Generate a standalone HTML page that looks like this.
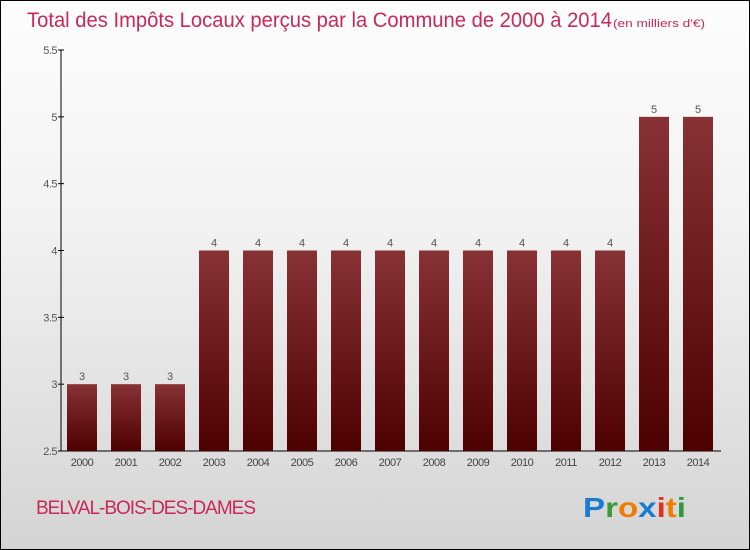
<!DOCTYPE html>
<html><head><meta charset="utf-8"><style>
body{margin:0}
#c{width:750px;height:550px;position:relative;box-sizing:border-box;border:1px solid #000;background:linear-gradient(#fdfdfd,#f2f2f2 40%,#d4d4d4);font-family:"Liberation Sans",sans-serif;overflow:hidden}
</style></head><body>
<div id="c">
<svg id="s" width="750" height="550" style="position:absolute;left:-1px;top:-1px">
<defs><linearGradient id="g" x1="0" y1="0" x2="0" y2="1"><stop offset="0" stop-color="#883236"/><stop offset="1" stop-color="#4e0000"/></linearGradient></defs>
<text x="27" y="27" font-size="21" fill="#c8285a" textLength="585" lengthAdjust="spacingAndGlyphs">Total des Impôts Locaux perçus par la Commune de 2000 à 2014</text>
<text x="613" y="27" font-size="11" fill="#c8285a" textLength="92" lengthAdjust="spacingAndGlyphs">(en milliers d'€)</text>
<text x="36" y="514" font-size="19" fill="#c8285a" letter-spacing="-1">BELVAL-BOIS-DES-DAMES</text>
<g font-size="28" font-weight="bold">
<text x="583" y="517" fill="#1a7bd0" textLength="103" lengthAdjust="spacingAndGlyphs">P<tspan fill="#3a9a3a">r</tspan><tspan fill="#f07d00">o</tspan><tspan fill="#1a7bd0">x</tspan><tspan fill="#e03020">i</tspan><tspan fill="#f07d00">t</tspan><tspan fill="#2a9a3a">i</tspan></text></g>
</svg>
</div>
<script>
const categories=["2000","2001","2002","2003","2004","2005","2006","2007","2008","2009","2010","2011","2012","2013","2014"];
const values=[3,3,3,4,4,4,4,4,4,4,4,4,4,5,5];
const labels=["3","3","3","4","4","4","4","4","4","4","4","4","4","5","5"];
const yTicks=[2.5,3,3.5,4,4.5,5,5.5];
const yTickLabels=["2.5","3","3.5","4","4.5","5","5.5"];
const s=document.getElementById('s'),NS="http://www.w3.org/2000/svg";
const y0=451,y1=50,vmin=2.5,vmax=5.5;
const yS=v=>y0-(v-vmin)/(vmax-vmin)*(y0-y1);
const xS=i=>82+i*44;
function el(t,a,p){const e=document.createElementNS(NS,t);for(const k in a)e.setAttribute(k,a[k]);(p||s).appendChild(e);return e;}
const ax=el('line',{x1:61,y1:y1,x2:61,y2:y0,stroke:'#000'});


const bx=el('line',{x1:61,y1:y0,x2:721,y2:y0,stroke:'#000'});


yTicks.forEach((v,i)=>{
 const t=el('line',{x1:58,x2:64,y1:yS(v),y2:yS(v),stroke:'#000'});
 
 
 const l=el('text',{x:57,y:yS(v)+4,'font-size':11,fill:'#555','text-anchor':'end','letter-spacing':'-0.5'});
 l.textContent=yTickLabels[i];
 
 
});
values.forEach((v,i)=>{
 const x=xS(i);
 const r=el('rect',{x:x-15,y:yS(v),width:30,height:y0-yS(v),fill:'url(#g)'});
 
 
 const t=el('text',{x:x,y:yS(v)-4,'font-size':11,fill:'#555','text-anchor':'middle'});
 t.textContent=labels[i];
 
 
 const c=el('text',{x:x,y:466,'font-size':11,fill:'#444','text-anchor':'middle','letter-spacing':'-0.5'});
 c.textContent=categories[i];
 
 
});
</script>
</body></html>
